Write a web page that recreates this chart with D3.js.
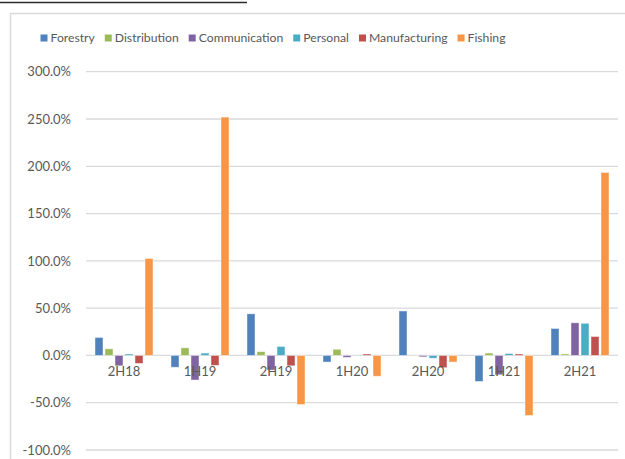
<!DOCTYPE html>
<html>
<head>
<meta charset="utf-8">
<script src="https://cdn.jsdelivr.net/npm/d3@7"></script>
<style>
  html, body { margin: 0; padding: 0; background: #fff; overflow: hidden; }
  svg { display: block; }
  text { font-family: Lato, "Open Sans", sans-serif; fill: #595959; }
</style>
</head>
<body>
<svg id="chart" width="625" height="459"></svg>
<script>
// Half-year periods
const periods = ["2H18", "1H19", "2H19", "1H20", "2H20", "1H21", "2H21"];

// Sectors shown in the legend, in drawing order
const sectors = ["Forestry", "Distribution", "Communication", "Personal", "Manufacturing", "Fishing"];

// Growth rates (%) per sector, one value per period
const forestry      = [19.0, -12.5, 44.0, -7.0, 47.0, -27.5, 28.5];
const distribution  = [7.0, 8.0, 4.0, 6.5, -0.5, 2.5, 1.5];
const communication = [-11.0, -26.0, -15.5, -2.0, -1.5, -20.5, 34.5];
const personal      = [1.5, 2.5, 9.5, 0.3, -3.0, 2.0, 34.0];
const manufacturing = [-8.5, -10.5, -11.0, 1.5, -13.0, 1.5, 20.0];
const fishing       = [102.5, 252.0, -52.0, -22.0, -7.0, -63.5, 193.5];

// Axis ticks
const yTicks = [-100, -50, 0, 50, 100, 150, 200, 250, 300];

const seriesValues = [forestry, distribution, communication, personal, manufacturing, fishing];
const colors = ["#4F81BD", "#9BBB59", "#8064A2", "#4BACC6", "#C0504D", "#F79646"];

const svg = d3.select("#chart");

// Outer chart frame and the underline of the heading above it
svg.append("line")
  .attr("x1", 0).attr("x2", 247).attr("y1", 2.5).attr("y2", 2.5)
  .attr("stroke", "#2b2b2b").attr("stroke-width", 1.5);
svg.append("rect")
  .attr("x", 10.5).attr("y", 13.5).attr("width", 700).attr("height", 500)
  .attr("fill", "#fff").attr("stroke", "#d9d9d9").attr("stroke-width", 1.5);

const plot = { left: 86, right: 618, top: 71.7, bottom: 450 };

const x0 = d3.scaleBand().domain(periods).range([plot.left, plot.right]);
const x1 = d3.scaleBand().domain(sectors).range([0, x0.bandwidth()])
  .paddingInner(0.2).paddingOuter(0.9);
const y = d3.scaleLinear().domain([-100, 300]).range([plot.bottom, plot.top]);
const color = d3.scaleOrdinal().domain(sectors).range(colors);

// Horizontal gridlines
svg.append("g")
  .selectAll("line")
  .data(yTicks)
  .join("line")
  .attr("x1", plot.left).attr("x2", plot.right)
  .attr("y1", d => y(d)).attr("y2", d => y(d))
  .attr("stroke", "#d9d9d9").attr("stroke-width", 1.3);

// Y axis labels
const yAxis = d3.axisLeft(y).tickValues(yTicks)
  .tickFormat(d => d.toFixed(1) + "%").tickSize(0).tickPadding(15);
const yg = svg.append("g").attr("transform", `translate(${plot.left},0)`).call(yAxis);
yg.select(".domain").remove();
yg.selectAll("text").attr("font-size", 13).attr("fill", "#595959")
  .attr("font-family", "Lato, 'Open Sans', sans-serif");

// Bars
const rows = [];
periods.forEach((p, i) => {
  sectors.forEach((s, j) => rows.push({ period: p, sector: s, value: seriesValues[j][i] }));
});

svg.append("g")
  .selectAll("rect")
  .data(rows)
  .join("rect")
  .attr("x", d => x0(d.period) + x1(d.sector))
  .attr("width", x1.bandwidth())
  .attr("y", d => y(Math.max(0, d.value)))
  .attr("height", d => Math.abs(y(d.value) - y(0)))
  .attr("fill", d => color(d.sector))
  .attr("stroke", "rgba(255,255,255,0.55)")
  .attr("stroke-width", 0.8);

// Category labels sit just under the zero line
const xAxis = d3.axisBottom(x0).tickSize(0).tickPadding(11);
const xg = svg.append("g").attr("transform", `translate(0,${y(0)})`).call(xAxis);
xg.select(".domain").remove();
xg.selectAll("text").attr("font-size", 13).attr("fill", "#595959")
  .attr("font-family", "Lato, 'Open Sans', sans-serif");

// Legend
const legend = svg.append("g").attr("transform", "translate(0,38)");
const items = legend.selectAll("g").data(sectors).join("g");
items.append("rect")
  .attr("y", -3.5).attr("width", 7).attr("height", 7)
  .attr("fill", d => color(d));
items.append("text")
  .attr("x", 10).attr("dy", "0.35em")
  .attr("font-size", 12.2)
  .text(d => d);
const widths = [];
items.each(function () {
  widths.push(10 + this.querySelector("text").getComputedTextLength());
});
const gap = 10;
const total = d3.sum(widths) + gap * (widths.length - 1);
let cx = 273 - total / 2;
items.attr("transform", (d, i) => {
  const t = `translate(${cx},0)`;
  cx += widths[i] + gap;
  return t;
});
</script>
</body>
</html>
